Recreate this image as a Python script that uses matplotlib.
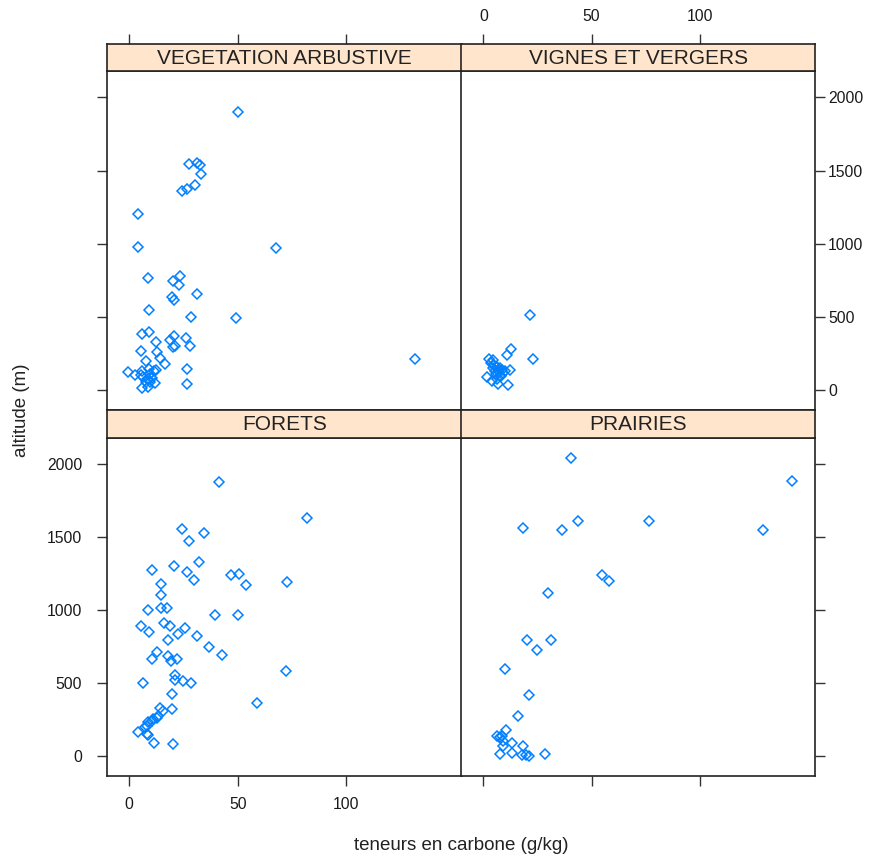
import matplotlib
matplotlib.use("Agg")
import matplotlib.pyplot as plt

plt.rcParams['font.family'] = ['Liberation Sans', 'DejaVu Sans']

# carbon content (g/kg) and altitude (m), per land use
veg_x = [50.1, 27.4, 31.3, 32.6, 33.0, 30.4, 26.7, 24.1, 4.1, 4.1, 67.6, 8.5,
         23.5, 20.3, 22.9, 31.0, 19.5, 20.5, 9.1, 28.6, 49.3, 131.8,
         5.7, 8.9, 12.2, 18.8, 20.6, 21.1, 20.3, 26.0, 28.1, 5.4, 12.8, 14.0,
         7.7, 16.6, 26.6, -0.5, 2.6, 5.7, 9.2, 12.4, 11.2, 6.5, 8.5, 9.5,
         7.7, 11.8, 5.7, 8.8, 26.6, 5.5, 9.8, 10.3]
veg_y = [1897, 1548, 1553, 1539, 1475, 1400, 1373, 1361, 1204, 979, 968, 763,
         783, 747, 715, 660, 635, 615, 551, 503, 492, 212,
         383, 398, 326, 342, 367, 303, 292, 355, 303, 268, 264, 219,
         196, 178, 148, 125, 102, 132, 143, 139, 132, 91, 75, 53,
         59, 48, 18, 25, 41, 105, 112, 84]

vig_x = [21.7, 12.7, 10.9, 22.8, 2.8, 4.6, 3.5, 5.0, 6.5, 7.5, 8.5, 5.5, 7.0,
         9.0, 6.0, 8.0, 4.5, 10.0, 6.8, 12.2, 1.5, 3.8, 6.9, 11.5, 6.1, 7.9]
vig_y = [512, 283, 240, 213, 212, 205, 184, 170, 160, 150, 140, 130, 125,
         120, 110, 100, 150, 130, 140, 140, 87, 63, 41, 38, 75, 97]

for_x = [41.2, 82.0, 24.1, 34.3, 27.4, 32.3, 10.3, 20.5, 26.7, 30.0, 46.7,
         50.7, 53.8, 72.7, 14.6, 14.6, 8.5, 14.6, 17.5, 39.4, 50.0, 5.3, 9.1,
         15.9, 18.6, 25.5, 22.3, 31.1, 17.8, 36.7, 42.6, 12.8, 10.3, 17.8,
         19.1, 21.8, 72.1, 21.1, 21.1, 24.9, 28.6, 6.5, 19.7, 58.7,
         14.1, 15.7, 19.9, 13.4, 12.6, 11.1, 10.3, 8.8, 8.0, 7.2, 4.0, 8.0,
         8.5, 11.5, 20.3]
for_y = [1874, 1630, 1555, 1526, 1471, 1330, 1273, 1305, 1264, 1207, 1239,
         1248, 1173, 1191, 1182, 1107, 1002, 1014, 1014, 966, 968, 893, 854,
         911, 893, 881, 836, 827, 797, 751, 697, 715, 665, 690,
         654, 665, 583, 556, 524, 517, 499, 499, 424, 367,
         331, 312, 324, 278, 266, 255, 244, 232, 210, 198, 164, 153,
         145, 92, 85]

pra_x = [40.4, 142.5, 43.6, 76.7, 18.5, 36.5, 129.4, 54.7, 57.9, 29.8, 20.3,
         31.2, 24.6, 9.8, 20.9, 15.9, 10.4, 6.1, 7.6, 8.4, 8.9, 8.9, 13.3,
         18.3, 7.6, 13.3, 18.0, 19.9, 21.1, 28.3]
pra_y = [2040, 1881, 1612, 1612, 1564, 1546, 1546, 1241, 1198, 1116, 797,
         797, 731, 601, 423, 276, 180, 141, 130, 141, 107, 73, 89,
         73, 16, 20, 12, 7, 3, 16]

panel_names = ["VEGETATION ARBUSTIVE", "VIGNES ET VERGERS", "FORETS", "PRAIRIES"]
x_ticks = [0, 50, 100]
y_ticks = [0, 500, 1000, 1500, 2000]

W, H = 875, 857
fig = plt.figure(figsize=(W / 100, H / 100), dpi=100)


def box(x0, y0, x1, y1):
    # pixel box (top-left origin) -> figure fraction rect
    return [x0 / W, 1 - y1 / H, (x1 - x0) / W, (y1 - y0) / H]


cols = [(107.3, 461.5), (461.5, 814.7)]
rows = [(44.3, 71.0, 409.5), (409.5, 437.7, 775.7)]
data = [(veg_x, veg_y), (vig_x, vig_y), (for_x, for_y), (pra_x, pra_y)]
xlim = (-10.1, 153.1)
ylim = (-132, 2180)
tick_kw = dict(direction="out", length=7.2, width=1.0, color="#333333",
               labelsize=11.3, labelcolor="#1a1a1a")

for i in range(4):
    r, c = divmod(i, 2)
    x0, x1 = cols[c]
    s0, d0, d1 = rows[r]
    ax = fig.add_axes(box(x0, d0, x1, d1))
    st = fig.add_axes(box(x0, s0, x1, d0))
    xs, ys = data[i]
    ax.plot(xs, ys, linestyle="none", marker="D", markersize=4.6,
            markerfacecolor="none", markeredgecolor="#0080ff",
            markeredgewidth=1.1)
    for a in (ax, st):
        a.set_xlim(*xlim)
        for sp in a.spines.values():
            sp.set_linewidth(1.2)
            sp.set_color("#222222")
        if c == 1:
            # shared border with the left column: draw it only once
            a.spines["left"].set_visible(False)
    ax.set_ylim(*ylim)

    st.set_facecolor("#ffe5cc")
    st.set_yticks([])
    st.text(0.5, 0.47, panel_names[i], transform=st.transAxes, ha="center",
            va="center", fontsize=15, color="#222222")

    # x ticks: top panels on top of strip, bottom panels at bottom
    if r == 0:
        ax.set_xticks([])
        st.set_xticks(x_ticks)
        st.tick_params(axis="x", bottom=False, top=True, labelbottom=False,
                       labeltop=(c == 1), pad=7.5, **tick_kw)
    else:
        st.set_xticks([])
        ax.set_xticks(x_ticks)
        ax.tick_params(axis="x", bottom=True, labelbottom=(c == 0), pad=8,
                       **tick_kw)

    # y ticks: left column on the left, right column on the right
    ax.set_yticks(y_ticks)
    if c == 0:
        ax.tick_params(axis="y", left=True, right=False,
                       labelleft=(r == 1), pad=11, **tick_kw)
    else:
        ax.tick_params(axis="y", left=False, right=True, labelleft=False,
                       labelright=(r == 0), pad=2.5, **tick_kw)

fig.text(461 / W, 1 - 845 / H, "teneurs en carbone (g/kg)", ha="center",
         va="center", fontsize=13.5, color="#222222")
fig.text(22 / W, 1 - 410 / H, "altitude (m)", ha="center", va="center",
         rotation=90, fontsize=13.5, color="#222222")

fig.savefig("out.png", dpi=100)
